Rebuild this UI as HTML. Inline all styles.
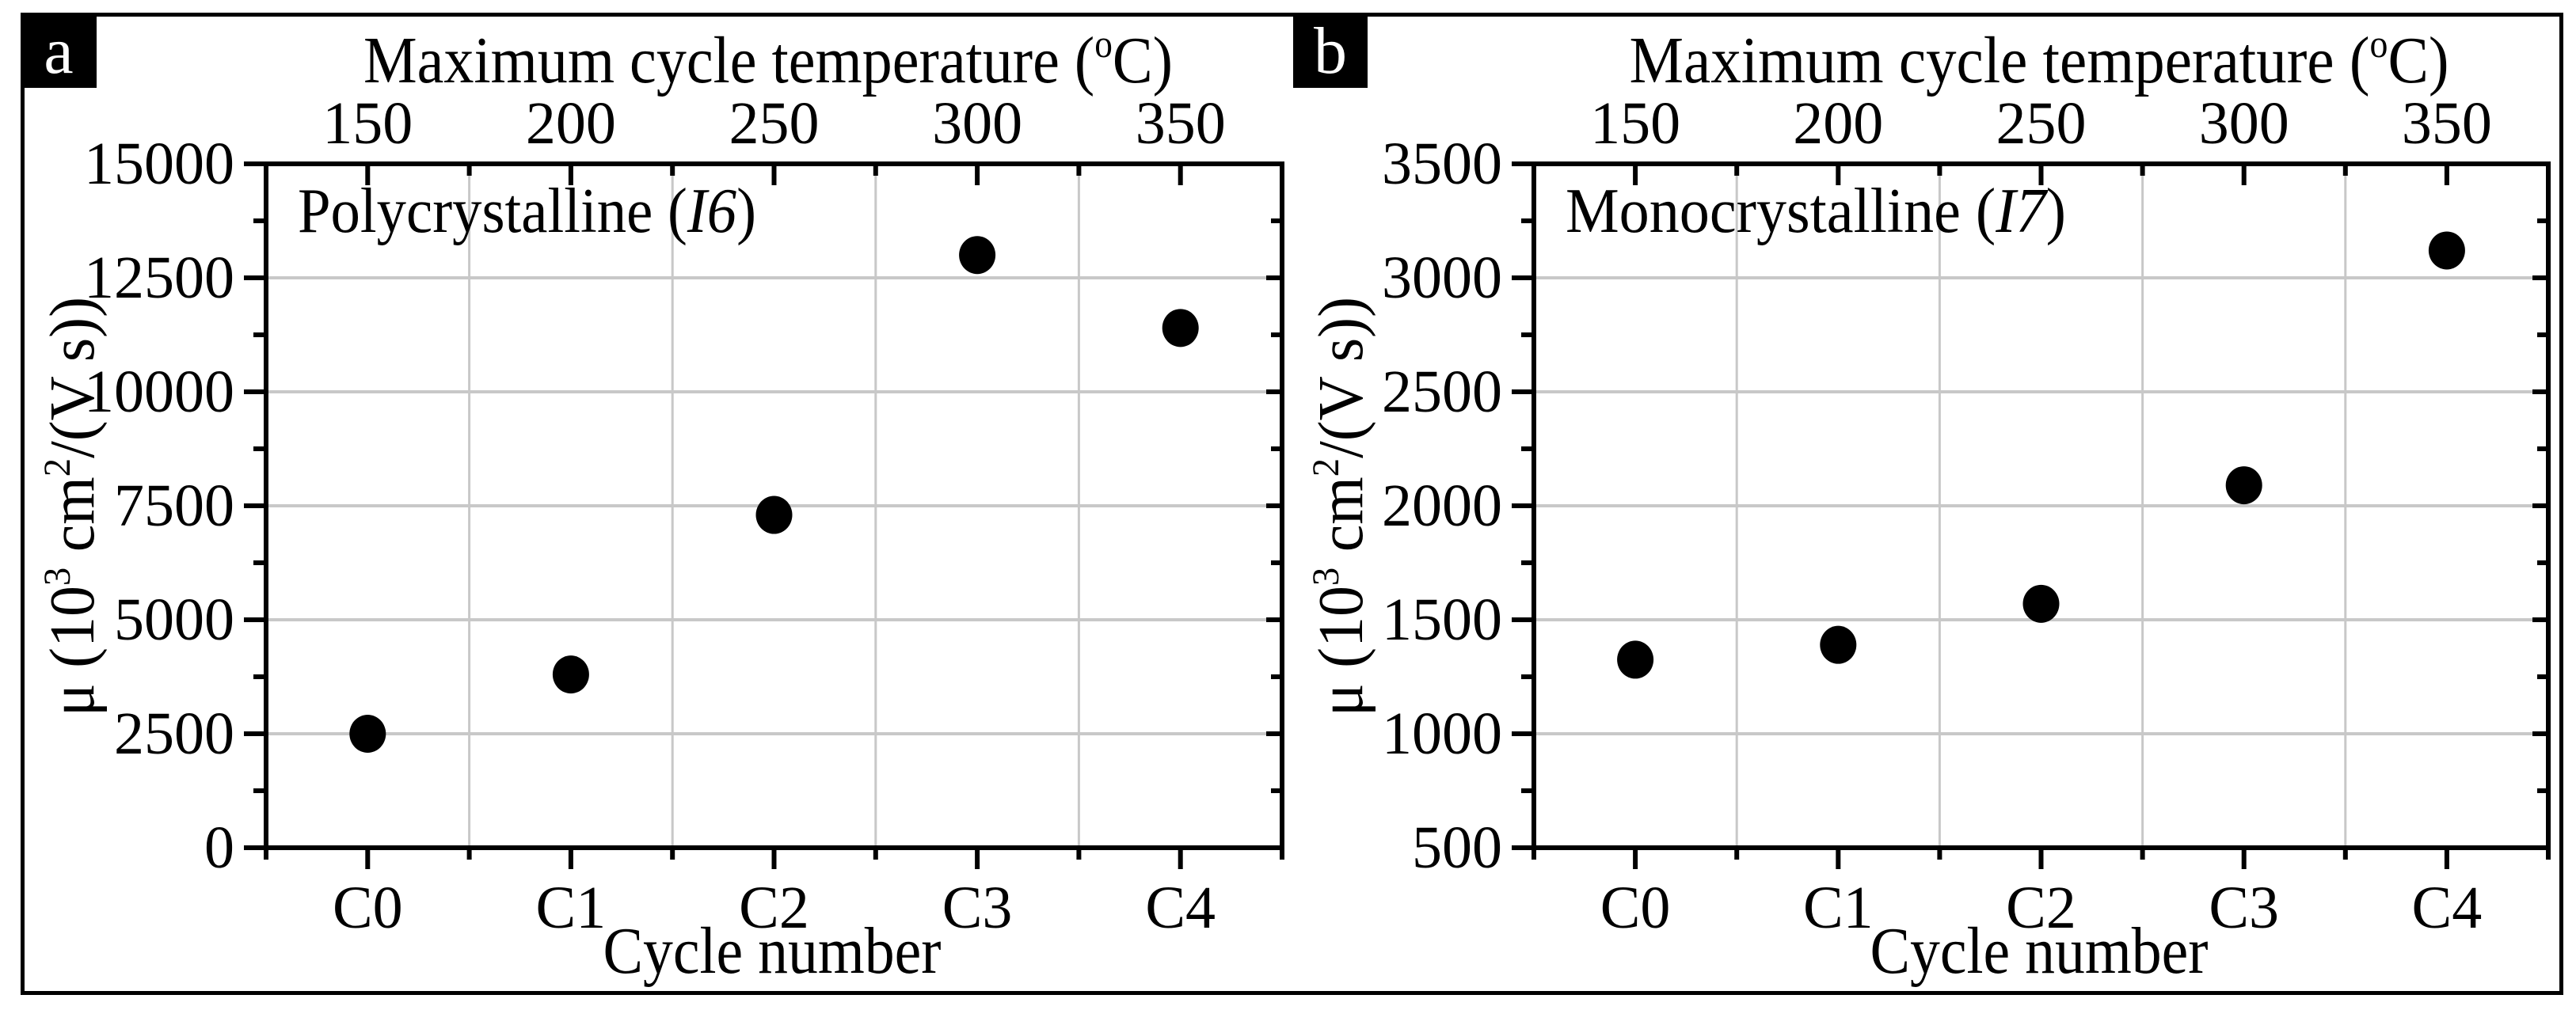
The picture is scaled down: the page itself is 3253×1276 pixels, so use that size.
<!DOCTYPE html>
<html><head><meta charset="utf-8">
<style>
html,body{margin:0;padding:0;background:#fff;}
svg{display:block;font-family:"Liberation Serif","DejaVu Serif",serif;}
</style></head>
<body>
<svg id="fig" width="3253" height="1276" viewBox="0 0 3253 1276" xmlns="http://www.w3.org/2000/svg">
<rect x="0" y="0" width="3253" height="1276" fill="#fff"/>
<rect x="28.5" y="18.5" width="3206" height="1236" fill="none" stroke="#000" stroke-width="5"/>
<rect x="26" y="16" width="96" height="95" fill="#000"/>
<text x="74" y="92" font-size="84" fill="#fff" text-anchor="middle">a</text>
<rect x="1633" y="16" width="94" height="95" fill="#000"/>
<text x="1680" y="92" font-size="84" fill="#fff" text-anchor="middle">b</text>
<g id="pa"></g><g id="pb"></g>
</svg>
<script>
const categories = ["C0","C1","C2","C3","C4"];
const topTickLabels = ["150","200","250","300","350"];
const seriesA = [2500, 3800, 7300, 13000, 11400];
const seriesB = [1325, 1390, 1570, 2090, 3120];
const yTicksA = [0, 2500, 5000, 7500, 10000, 12500, 15000];
const yTicksB = [500, 1000, 1500, 2000, 2500, 3000, 3500];

const NS = "http://www.w3.org/2000/svg";
function mk(parent, tag, attrs, txt){
  const e = document.createElementNS(NS, tag);
  for (const k in attrs) e.setAttribute(k, attrs[k]);
  if (txt !== undefined) e.textContent = txt;
  parent.appendChild(e);
  return e;
}
function panel(g, L, R, T, B, yTicks, values, inset, titleCx, ytitleX, titleW, insetW){
  const y0 = yTicks[0], y1 = yTicks[yTicks.length-1];
  const ys = v => B - (v - y0) / (y1 - y0) * (B - T);
  const xs = i => L + (i + 0.5) / categories.length * (R - L);
  const step = yTicks[1] - yTicks[0];
  for (let i = 1; i < yTicks.length - 1; i++) {
    const gl = mk(g, "line", {x1:L, x2:R, y1:ys(yTicks[i]), y2:ys(yTicks[i]), stroke:"#c8c8c8", "stroke-width":4});
    
    
  }
  for (let i = 0; i < categories.length - 1; i++) {
    const gl = mk(g, "line", {x1:xs(i+0.5), x2:xs(i+0.5), y1:T, y2:B, stroke:"#c8c8c8", "stroke-width":3});
    
    
  }
  const tk = (x1,y1,x2,y2) => { const t = mk(g,"line",{x1,y1,x2,y2,stroke:"#000","stroke-width":6});   };
  for (let i = 0; i < yTicks.length; i++) {
    const y = ys(yTicks[i]);
    tk(L-28, y, L, y); tk(R, y, R-20, y);
    if (i < yTicks.length - 1) { const ym = ys(yTicks[i] + step/2); tk(L-16, ym, L, ym); tk(R, ym, R-14, ym); }
    const lab = mk(g, "text", {x:L-40, y:y+25, "font-size":76, "text-anchor":"end"}, String(yTicks[i]));
    
    
  }
  for (let i = 0; i < categories.length; i++) {
    const x = xs(i);
    tk(x, B, x, B+27); tk(x, T, x, T+27);
    const bl = mk(g, "text", {x:x, y:B+101, "font-size":76, "text-anchor":"middle"}, categories[i]);
    
    
    const tl = mk(g, "text", {x:x, y:T-26, "font-size":76, "text-anchor":"middle"}, topTickLabels[i]);
    
    
  }
  for (let i = -1; i < categories.length; i++) {
    const x = xs(i + 0.5);
    tk(x, B, x, B+15); tk(x, T, x, T+15);
  }
  const fr = mk(g, "rect", {x:L, y:T, width:R-L, height:B-T, fill:"none", stroke:"#000", "stroke-width":6});
  
  
  for (let i = 0; i < values.length; i++) {
    const c = mk(g, "ellipse", {cx:xs(i), cy:ys(values[i]), rx:23, ry:24, fill:"#000"});
    
    
  }
  const it = mk(g, "text", {x:L+40, y:T+86, "font-size":80, textLength:insetW, lengthAdjust:"spacingAndGlyphs"});
  
  
  mk(it, "tspan", {}, inset[0] + " (");
  mk(it, "tspan", {"font-style":"italic"}, inset[1]);
  mk(it, "tspan", {}, ")");
  const tt = mk(g, "text", {x:titleCx - titleW/2, y:104, "font-size":84, textLength:titleW, lengthAdjust:"spacingAndGlyphs"});
  
  
  mk(tt, "tspan", {}, "Maximum cycle temperature (");
  mk(tt, "tspan", {"font-size":50, dy:-32}, "o");
  mk(tt, "tspan", {dy:32}, "C)");
  const xt = mk(g, "text", {x:(L+R)/2 - 3 - 213, y:1229, "font-size":84, textLength:427, lengthAdjust:"spacingAndGlyphs"}, "Cycle number");
  
  
  const yt = mk(g, "text", {x:-265, y:0, "font-size":80, textLength:530, lengthAdjust:"spacingAndGlyphs", transform:`translate(${ytitleX},640) rotate(-90)`});
  
  
  mk(yt, "tspan", {}, "μ (10");
  mk(yt, "tspan", {"font-size":48, dy:-30}, "3");
  mk(yt, "tspan", {dy:30}, " cm");
  mk(yt, "tspan", {"font-size":48, dy:-30}, "2");
  mk(yt, "tspan", {dy:30}, "/(V s))");
}
panel(document.getElementById("pa"), 336, 1619, 207, 1071, yTicksA, seriesA, ["Polycrystalline","I6"], 970, 118, 1022, 579);
panel(document.getElementById("pb"), 1937, 3218, 207, 1071, yTicksB, seriesB, ["Monocrystalline","I7"], 2575, 1720, 1035, 632);
</script>
</body></html>
